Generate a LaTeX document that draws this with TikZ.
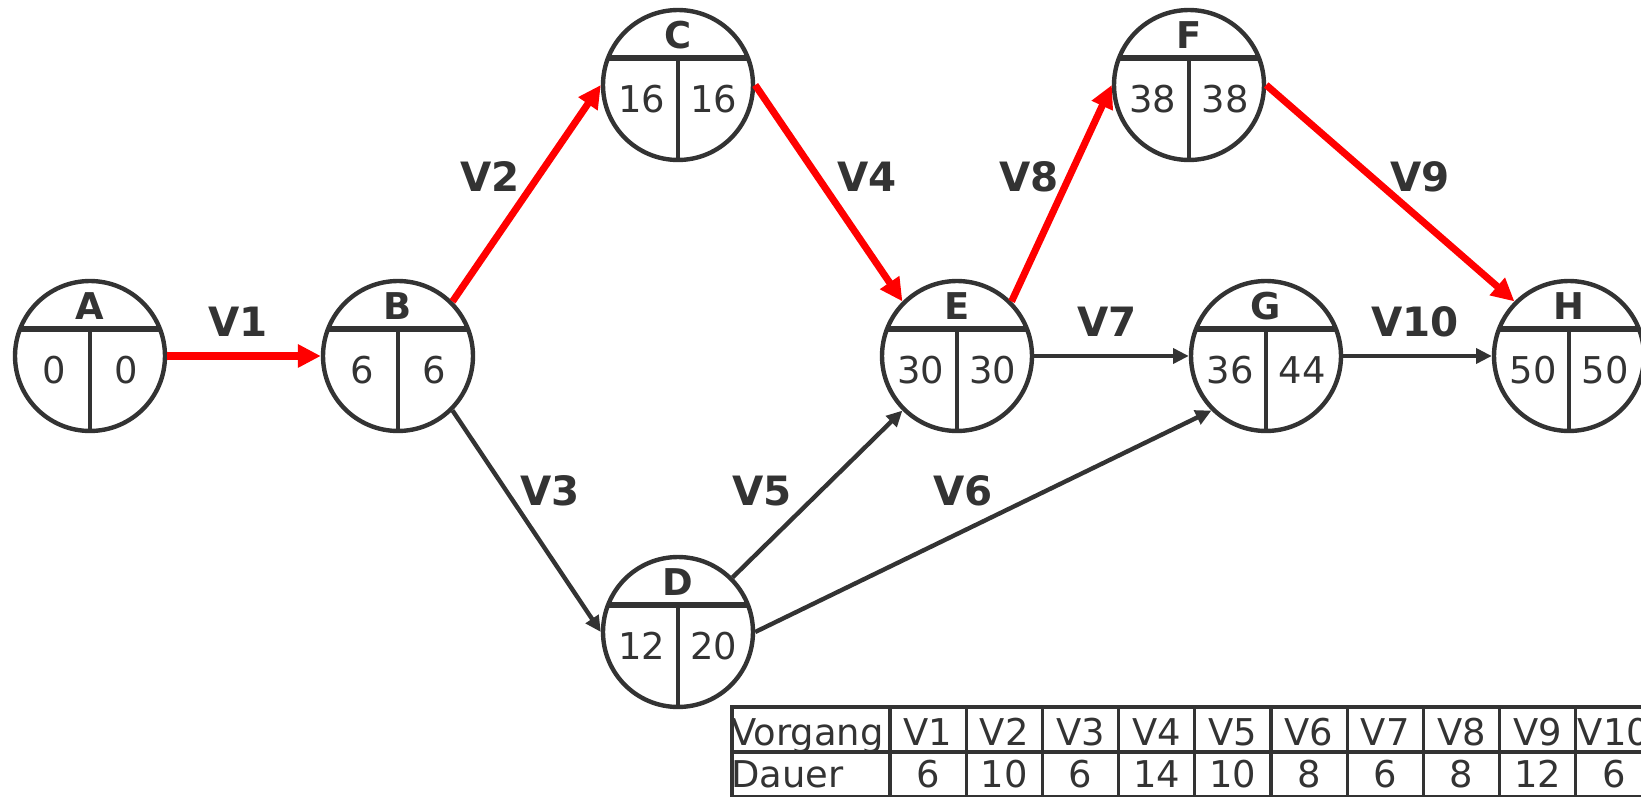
\documentclass[tikz,border=0pt]{standalone}
\usepackage{fontspec}
\setmainfont{DejaVu Sans}
\usetikzlibrary{arrows.meta}
\definecolor{dunkel}{HTML}{333333}
\definecolor{kritisch}{HTML}{FF0000}

\tikzset{
  ereignis/.style={circle, draw=dunkel, line width=2.5pt, minimum size=3cm, inner sep=0pt},
  kopf/.style={dunkel, line width=3.4pt},
  steg/.style={dunkel, line width=2.8pt},
  krit/.style={kritisch, line width=4pt, -{Triangle[length=13pt,width=12.5pt]}},
  normal/.style={dunkel, line width=2.5pt, -{Triangle[length=9pt,width=8.5pt]}},
  vlabel/.style={text=dunkel, inner sep=0, font=\fontsize{23}{27}\selectfont\bfseries},
  buchstabe/.style={text=dunkel, inner sep=0, font=\fontsize{21}{25}\selectfont\bfseries},
  zahl/.style={text=dunkel, inner sep=0, font=\fontsize{21}{25}\selectfont},
  tabelle/.style={dunkel, line width=1.8pt}
}

\begin{document}
\begin{tikzpicture}[x=0.02cm, y=-0.02cm]
\useasboundingbox (0,0) rectangle (1641,797);

\foreach \n/\px/\py/\fz/\sz in {A/90/356/0/0, B/398/356/6/6, C/678/85/16/16, D/678/632/12/20,
    E/957/356/30/30, F/1189/85/38/38, G/1266/356/36/44, H/1569/356/50/50} {
  \node[ereignis] (\n) at (\px,\py) {};
  \draw[kopf] ([shift={(-70,-27)}]\n.center) -- ([shift={(70,-27)}]\n.center);
  \draw[steg] ([shift={(0,-27)}]\n.center) -- ([shift={(0,75)}]\n.center);
  \node[buchstabe] (\n-name) at ([shift={(0,-50)}]\n.center) {\n};
  \node[zahl] (\n-faz) at ([shift={(-36,14)}]\n.center) {\fz};
  \node[zahl] (\n-saz) at ([shift={(36,14)}]\n.center) {\sz};
}

\draw[krit] (A) -- (B);
\draw[krit] (B.north east) -- (C.west);
\draw[krit] (C.east) -- (E.north west);
\draw[krit] (E.north east) -- (F.west);
\draw[krit] (F.east) -- (H.north west);
\draw[normal] (B.south east) -- (D.west);
\draw[normal] (D.north east) -- (E.south west);
\draw[normal] (D.east) -- (G.south west);
\draw[normal] (E) -- (G);
\draw[normal] (G) -- (H);

\node[vlabel] (v1) at (238,322) {V1};
\node[vlabel] (v2) at (490,177) {V2};
\node[vlabel] (v3) at (550,491) {V3};
\node[vlabel] (v4) at (867,177) {V4};
\node[vlabel] (v5) at (762,491) {V5};
\node[vlabel] (v6) at (963,491) {V6};
\node[vlabel] (v7) at (1107,322) {V7};
\node[vlabel] (v8) at (1029,177) {V8};
\node[vlabel] (v9) at (1420,177) {V9};
\node[vlabel] (v10) at (1415,322) {V10};

\draw[tabelle] (732,707) rectangle (1650,797);
\draw[tabelle] (732,752) -- (1650,752);
\foreach \k [evaluate=\k as \xk using 890+76.2*\k] in {0,...,9} {
  \draw[tabelle] (\xk,707) -- (\xk,797);
}
\node[zahl, anchor=base west] (t-kopf) at (731,745) {Vorgang};
\node[zahl, anchor=base west] (t-dauer) at (731,787) {Dauer};
\foreach \d [count=\k from 0, evaluate=\k as \xm using 928.1+76.2*\k] in {6,10,6,14,10,8,6,8,12,6} {
  \node[zahl, anchor=base] (t-v\k) at (\xm,745) {V\the\numexpr\k+1\relax};
  \node[zahl, anchor=base] (t-d\k) at (\xm,787) {\d};
}
\end{tikzpicture}
\end{document}
